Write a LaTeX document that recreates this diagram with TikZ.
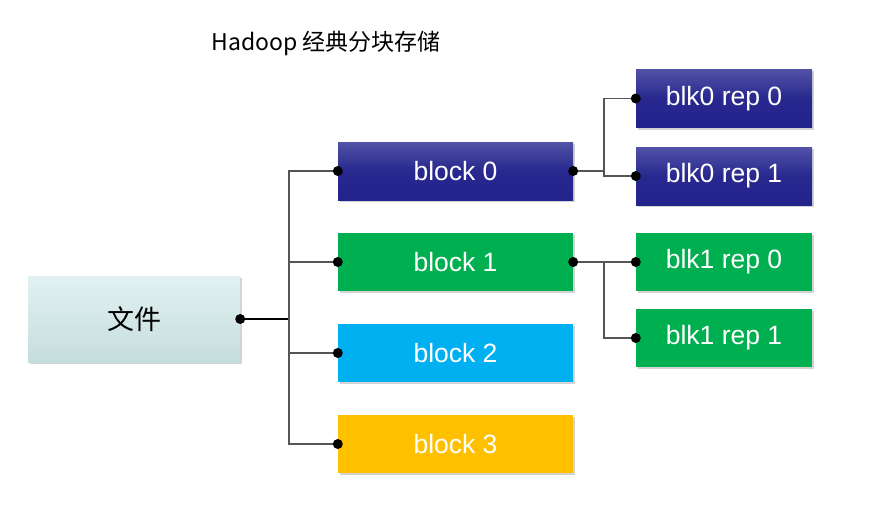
\documentclass[tikz,border=0pt]{standalone}
\usepackage{fontspec}
\setmainfont{Liberation Sans}
\newfontfamily\cjk{Noto Sans CJK SC}
\usetikzlibrary{shadows}
\definecolor{bluetop}{HTML}{5252A6}
\definecolor{bluebot}{HTML}{23238C}
\definecolor{grn}{HTML}{00B050}
\definecolor{cyn}{HTML}{00B0F0}
\definecolor{ylw}{HTML}{FFC000}
\definecolor{filetop}{HTML}{E2F1F1}
\definecolor{filebot}{HTML}{C6DDDD}
\definecolor{linegray}{HTML}{555555}
\tikzset{
  box/.style={rectangle, minimum height=58pt, inner sep=0pt, text=white,
    font=\fontsize{26.5}{30}\selectfont,
    drop shadow={shadow xshift=1.5pt, shadow yshift=-2pt, opacity=0.35}},
  bigbox/.style={box, minimum width=235pt},
  repbox/.style={box, minimum width=176pt},
  bluebox/.style={top color=bluetop, bottom color=bluebot, middle color=bluebot!90!bluetop},
  greenbox/.style={fill=grn},
  cyanbox/.style={fill=cyn},
  yellowbox/.style={fill=ylw},
  filebox/.style={rectangle, minimum width=212pt, minimum height=86pt, inner sep=0pt,
    top color=filetop, bottom color=filebot,
    font=\cjk\fontsize{27}{30}\selectfont,
    drop shadow={shadow xshift=1.5pt, shadow yshift=-2pt, opacity=0.35}},
  conn/.style={draw=linegray, line width=1.3pt},
  dot/.style={circle, fill=black, inner sep=0pt, minimum size=10pt},
}
\begin{document}
\begin{tikzpicture}[x=1pt,y=-1pt]
\useasboundingbox (0,0) rectangle (878,511);
\node[font=\cjk\fontsize{23}{26}\selectfont, anchor=west] (title) at (208,43) {Hadoop 经典分块存储};

\node[filebox] (file) at (134,319) {文件};
\node[bigbox, bluebox] (b0) at (455.5,171) {block 0};
\node[bigbox, greenbox] (b1) at (455.5,262) {block 1};
\node[bigbox, cyanbox] (b2) at (455.5,353) {block 2};
\node[bigbox, yellowbox] (b3) at (455.5,444) {block 3};
\node[repbox, bluebox] (r00) at (724,98.5) {blk0 rep 0};
\node[repbox, bluebox] (r01) at (724,176) {blk0 rep 1};
\node[repbox, greenbox] (r10) at (724,262) {blk1 rep 0};
\node[repbox, greenbox] (r11) at (724,338) {blk1 rep 1};

\coordinate (trunk) at (289,319);
\coordinate (br0) at (604,171);
\coordinate (br1) at (604,262);

\draw[line width=2pt, black] (file.east) -- (trunk);
\foreach \b in {b0,b1,b2,b3} {
  \draw[conn] (trunk) |- (\b.west);
}
\draw[conn] (b0.east) -- (br0);
\draw[conn] (br0) |- (r00.west);
\draw[conn] (br0) |- (r01.west);
\draw[conn] (b1.east) -- (br1);
\draw[conn] (br1) |- (r10.west);
\draw[conn] (br1) |- (r11.west);

\foreach \n in {file.east,b0.west,b1.west,b2.west,b3.west,b0.east,b1.east,r00.west,r01.west,r10.west,r11.west} {
  \node[dot] at (\n) {};
}
\end{tikzpicture}
\end{document}
